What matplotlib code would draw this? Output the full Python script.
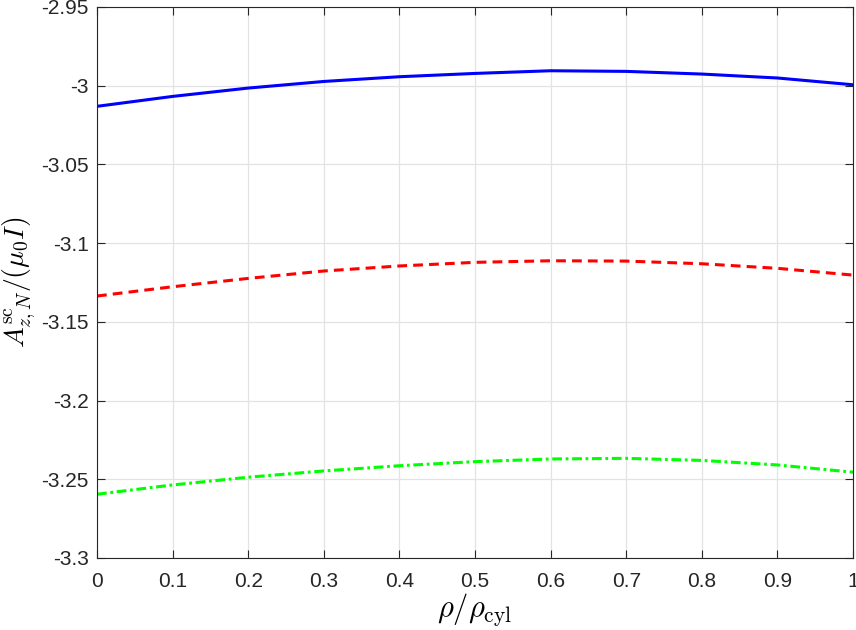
import numpy as np
import matplotlib
matplotlib.use("Agg")
import matplotlib.pyplot as plt

# values
rho = [0.0, 0.1, 0.2, 0.3, 0.4, 0.5, 0.6, 0.7, 0.8, 0.9, 1.0]
blue_vals = [-3.0131, -3.0068, -3.0015, -2.9973, -2.9943, -2.9922,
             -2.9905, -2.9909, -2.9926, -2.9951, -2.9994]
red_vals = [-3.1336, -3.1277, -3.1224, -3.1177, -3.1145, -3.1122,
            -3.1112, -3.1114, -3.1131, -3.1160, -3.1203]
green_vals = [-3.2595, -3.2536, -3.2487, -3.2447, -3.2414, -3.2388,
              -3.2371, -3.2367, -3.2380, -3.2409, -3.2455]

xticks = [0, 0.1, 0.2, 0.3, 0.4, 0.5, 0.6, 0.7, 0.8, 0.9, 1]
xtick_labels = ["0", "0.1", "0.2", "0.3", "0.4", "0.5", "0.6", "0.7", "0.8", "0.9", "1"]
yticks = [-2.95, -3.0, -3.05, -3.1, -3.15, -3.2, -3.25, -3.3]
ytick_labels = ["-2.95", "-3", "-3.05", "-3.1", "-3.15", "-3.2", "-3.25", "-3.3"]

plt.rcParams["font.family"] = ["Liberation Sans", "DejaVu Sans"]
plt.rcParams["mathtext.fontset"] = "cm"

axis_col = "#262626"

fig = plt.figure(figsize=(8.56, 6.30), dpi=100)
ax = fig.add_axes([0.1133, 0.1143, 0.8832, 0.8746])

ax.plot(rho, blue_vals, color=(0, 0, 1), linewidth=2.2, linestyle="-")
ax.plot(rho, red_vals, color=(1, 0, 0), linewidth=2.2, linestyle=(0, (3.2, 2.0)))
ax.plot(rho, green_vals, color=(0, 1, 0), linewidth=2.2, linestyle=(0, (3.2, 1.2, 0.9, 1.2)))

ax.set_xlim(0, 1)
ax.set_ylim(-3.3, -2.95)
ax.set_xticks(xticks)
ax.set_xticklabels(xtick_labels)
ax.set_yticks(yticks)
ax.set_yticklabels(ytick_labels)

ax.grid(True, color="#e3e3e3", linewidth=0.9)
ax.set_axisbelow(True)
ax.tick_params(direction="in", top=True, right=True, length=6, width=0.8,
               colors=axis_col, labelsize=15)
ax.tick_params(axis="x", pad=10)
ax.tick_params(axis="y", pad=6)
for sp in ax.spines.values():
    sp.set_color(axis_col)
    sp.set_linewidth(0.8)

ax.set_xlabel(r"$\rho/\rho_{\rm cyl}$", fontsize=22, labelpad=0)
ax.set_ylabel(r"$A^{\rm sc}_{z,N}/(\mu_0 I)$", fontsize=20, labelpad=3)

fig.savefig("out.png", dpi=100)
